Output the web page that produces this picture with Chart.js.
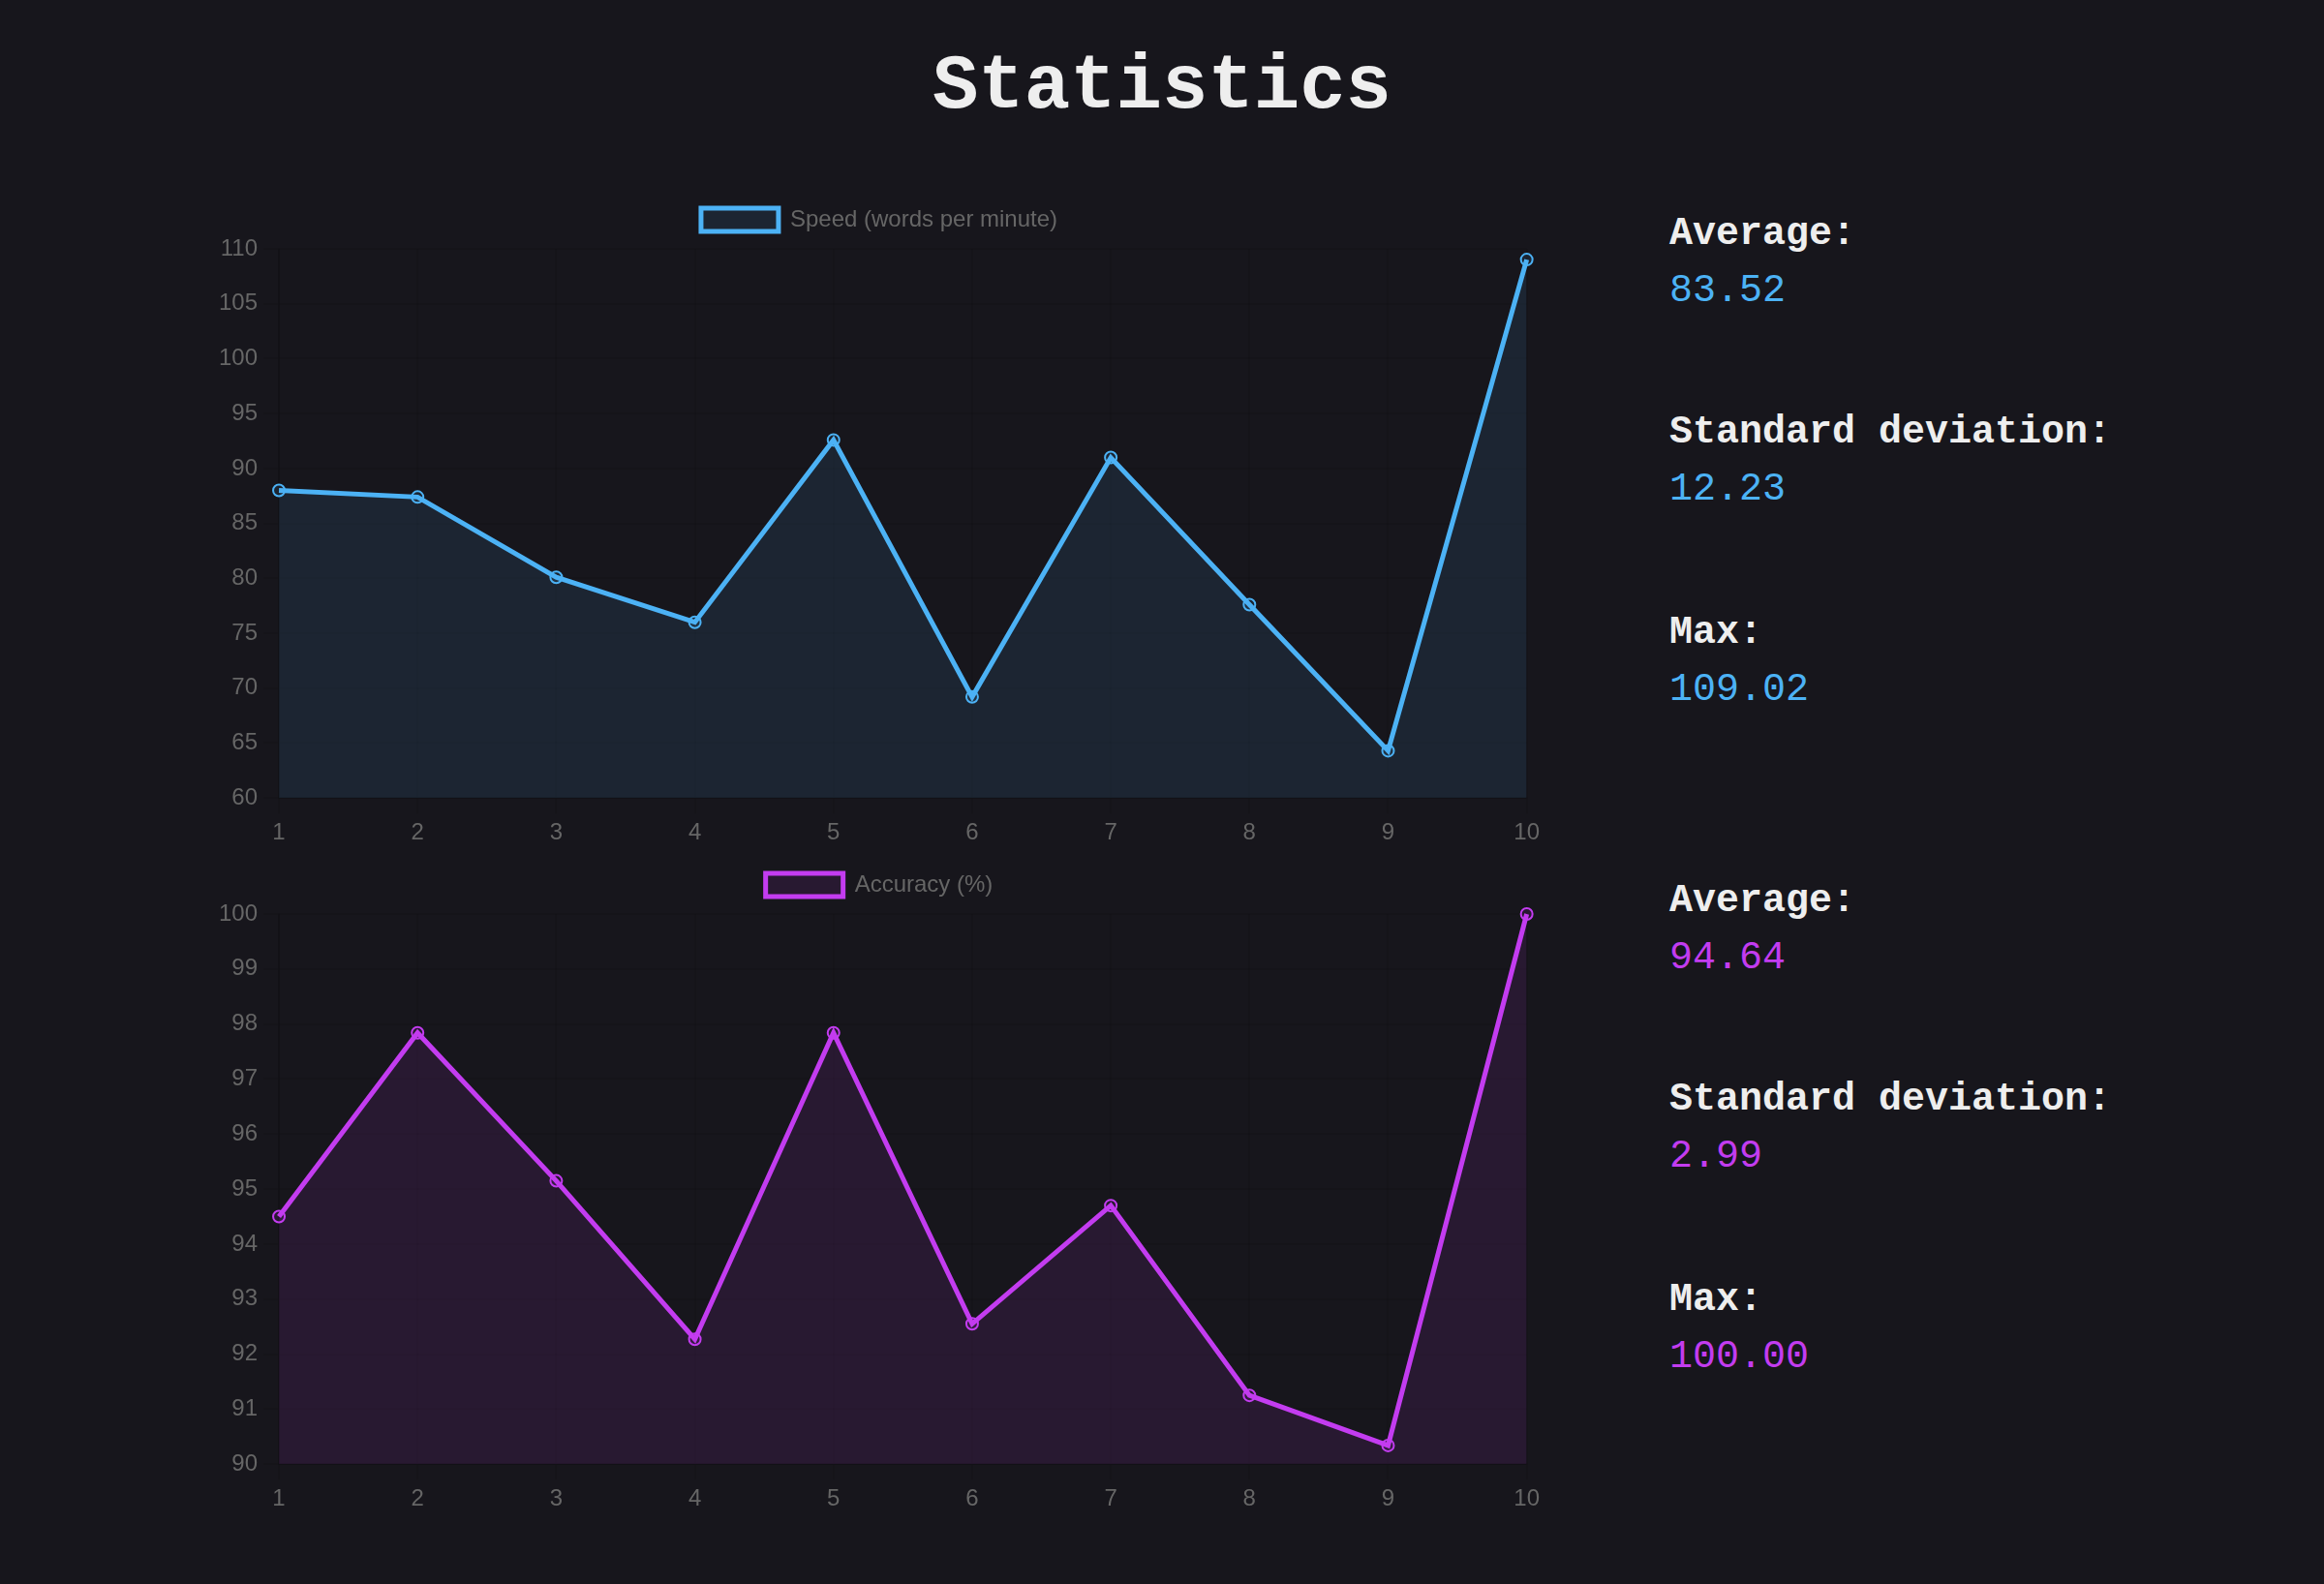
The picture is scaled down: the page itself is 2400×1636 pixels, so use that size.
<!DOCTYPE html>
<html>
<head>
<meta charset="utf-8">
<title>Statistics</title>
<script src="https://cdn.jsdelivr.net/npm/chart.js@4.4.1/dist/chart.umd.min.js"></script>
<style>
  html, body { margin: 0; padding: 0; background: #17161c; }
  body {
    width: 2400px; height: 1636px; position: relative; overflow: hidden;
    font-family: "Courier New", "Liberation Mono", monospace;
    color: #eeeeee;
  }
  h1 {
    position: absolute; left: 0; top: 51px; width: 2400px; margin: 0;
    text-align: center; font-size: 79px; line-height: 79px; font-weight: bold;
  }
  .box { position: absolute; left: 220px; width: 1376px; }
  .stat { position: absolute; left: 1724px; margin: 0; font-size: 40px; line-height: 40px; white-space: nowrap; }
  .stat.label { font-weight: bold; color: #eeeeee; }
</style>
</head>
<body>
<h1>Statistics</h1>
<div class="box" style="top:185px;height:696px"><canvas id="speedChart"></canvas></div>
<div class="box" style="top:872px;height:697px"><canvas id="accuracyChart"></canvas></div>
<script>
const runs = ["1", "2", "3", "4", "5", "6", "7", "8", "9", "10"];
const speed = [88.0, 87.4, 80.1, 76.0, 92.6, 69.2, 91.0, 77.6, 64.3, 109.02];
const accuracy = [94.5, 97.84, 95.15, 92.27, 97.84, 92.55, 94.7, 91.25, 90.34, 100];

const speedRange = [60, 110, 5];
const accuracyRange = [90, 100, 1];

const statLabels = ["Average:", "Standard deviation:", "Max:"];
const speedStats = ["83.52", "12.23", "109.02"];
const accuracyStats = ["94.64", "2.99", "100.00"];

const BLUE = "#4cb2f5";
const PURPLE = "#c33cf0";

Chart.defaults.font.family = "'Liberation Sans', Arial, sans-serif";
Chart.defaults.font.size = 24;
Chart.defaults.color = "#666";

// a bit of extra room under the legend
const legendGap = {
    id: "legendGap",
    beforeInit(chart) {
        const fit = chart.legend.fit;
        chart.legend.fit = function () {
            fit.bind(chart.legend)();
            this.height += 8;
        };
    }
};

function makeChart(id, label, values, color, fill, range) {
    return new Chart(document.getElementById(id), {
        type: "line",
        data: {
            labels: runs,
            datasets: [{
                label: label,
                data: values,
                borderColor: color,
                backgroundColor: fill,
                borderWidth: 5,
                pointRadius: 6,
                pointBorderWidth: 2,
                fill: true,
                tension: 0,
                clip: false
            }]
        },
        options: {
            responsive: true,
            maintainAspectRatio: false,
            animation: false,
            plugins: {
                legend: {
                    labels: { boxWidth: 80, padding: 30, font: { size: 24 } }
                },
                tooltip: { enabled: false }
            },
            scales: {
                x: {
                    grid: { tickLength: 16, lineWidth: 2, color: "rgba(0,0,0,0.08)" },
                    border: { width: 2, color: "rgba(0,0,0,0.12)" },
                    ticks: { padding: 6 }
                },
                y: {
                    min: range[0],
                    max: range[1],
                    grid: { tickLength: 16, lineWidth: 2, color: "rgba(0,0,0,0.08)" },
                    border: { width: 2, color: "rgba(0,0,0,0.12)" },
                    ticks: { stepSize: range[2], padding: 6 }
                }
            }
        },
        plugins: [legendGap]
    });
}

makeChart("speedChart", "Speed (words per minute)", speed, BLUE, "rgba(76, 178, 245, 0.1)", speedRange);
makeChart("accuracyChart", "Accuracy (%)", accuracy, PURPLE, "rgba(195, 60, 240, 0.1)", accuracyRange);

// stats column on the right
function addStats(values, color, top) {
    const offsets = [0, 205, 412];
    statLabels.forEach((text, i) => {
        const l = document.createElement("p");
        l.className = "stat label";
        l.textContent = text;
        l.style.top = (top + offsets[i]) + "px";
        document.body.appendChild(l);
        const v = document.createElement("p");
        v.className = "stat";
        v.textContent = values[i];
        v.style.color = color;
        v.style.top = (top + offsets[i] + 59) + "px";
        document.body.appendChild(v);
    });
}
addStats(speedStats, BLUE, 222);
addStats(accuracyStats, PURPLE, 911);
</script>
</body>
</html>
